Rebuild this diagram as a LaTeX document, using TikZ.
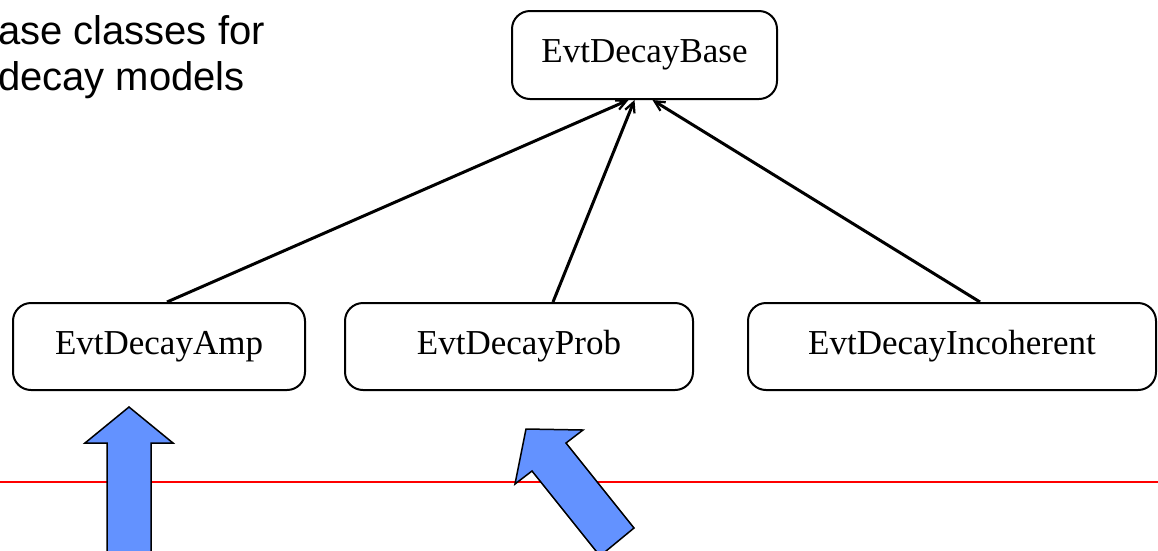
\documentclass[tikz,border=0pt]{standalone}
\usepackage{fontspec}
\setmainfont{Liberation Serif}
\newfontfamily\titlefont{Liberation Sans}
\usetikzlibrary{arrows.meta,calc}
\definecolor{arrowblue}{RGB}{99,146,255}
\definecolor{linered}{RGB}{255,0,0}
\tikzset{
  classbox/.style={draw=black, line width=2pt, rounded corners=18pt, fill=white,
    inner sep=0pt, font=\fontsize{35}{40}\selectfont},
  inherit/.style={line width=3pt, -{Straight Barb[length=10pt,width=10pt,line width=2.2pt]}},
  bigarrow/.style={fill=arrowblue, draw=black, line width=1.5pt, line join=miter},
  titletext/.style={inner sep=0pt, anchor=base east, font=\titlefont\fontsize{40}{45}\selectfont}
}
\begin{document}
\begin{tikzpicture}[x=1pt,y=-1pt]
\useasboundingbox (0,0) rectangle (1158,550);
\clip (0,0) rectangle (1158,550);
% title text (cut off at the left edge)
\node[titletext] (t1) at (265,44) {ase classes for};
\node[titletext] (t2) at (245,90) {decay models};
% class boxes
\node[classbox, minimum width=265pt, minimum height=88pt] (base) at (644.5,55) {EvtDecayBase};
\node[classbox, minimum width=292pt, minimum height=87pt] (amp) at (159,346.5) {EvtDecayAmp};
\node[classbox, minimum width=348pt, minimum height=87pt] (prob) at (519,346.5) {EvtDecayProb};
\node[classbox, minimum width=408pt, minimum height=87pt] (incoh) at (952,346.5) {EvtDecayIncoherent};
% inheritance connectors
\draw[inherit] ($(amp.north)+(8,0)$) -- ($(base.south)+(-16,0)$);
\draw[inherit] ($(prob.north)+(34,0)$) -- ($(base.south)+(-10,0)$);
\draw[inherit] ($(incoh.north)+(28,0)$) -- ($(base.south)+(8,0)$);
% red line
\coordinate (rl) at (0,482);
\coordinate (rr) at (1158,482);
\draw[linered, line width=2pt] (rl) -- (rr);
% big blue arrows
\draw[bigarrow] (129,407) -- (173,443) -- (151,443) -- (151,560) -- (107,560) -- (107,443) -- (85,443) -- cycle;
\draw[bigarrow] (526,429) -- (583,430) -- (566,443) -- (634,528) -- (600,556) -- (532,471) -- (515,484) -- cycle;
\end{tikzpicture}
\end{document}
